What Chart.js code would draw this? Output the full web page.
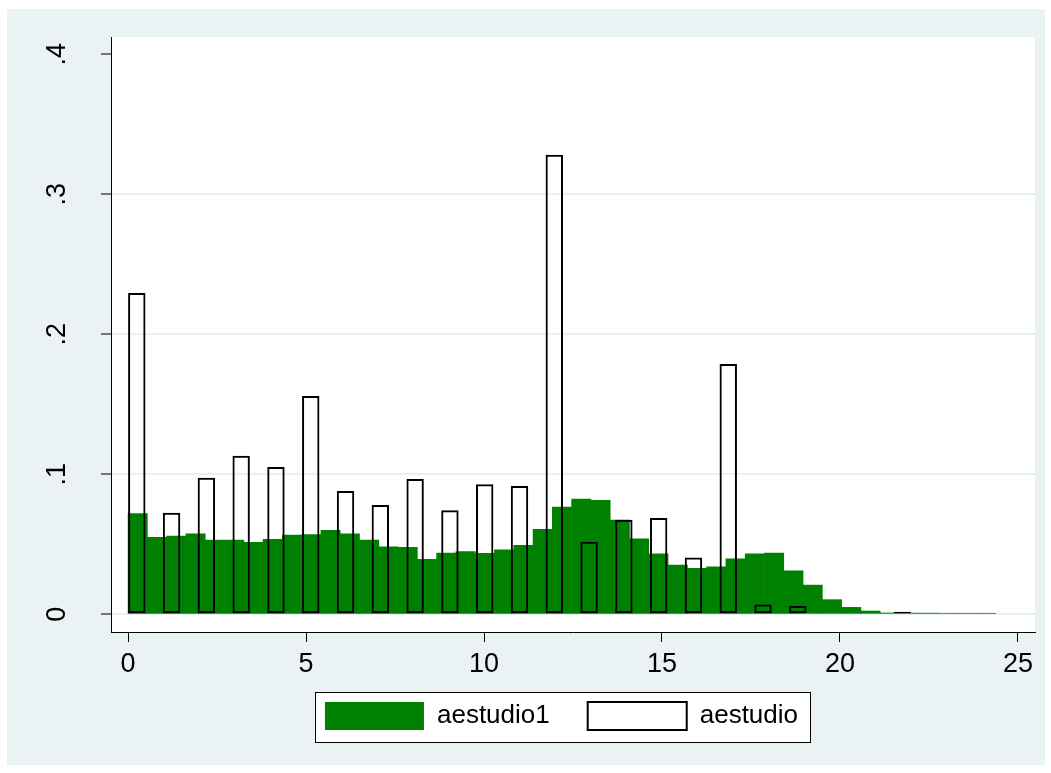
<!DOCTYPE html>
<html>
<head>
<meta charset="utf-8">
<title>aestudio histogram</title>
<script src="https://cdn.jsdelivr.net/npm/chart.js@4.4.1/dist/chart.umd.min.js"></script>
<style>
  html, body { margin: 0; padding: 0; background: #fff; }
  canvas { display: block; }
</style>
</head>
<body>
<canvas id="histChart" width="1051" height="773"></canvas>
<script>
// aestudio1: density per bin, 45 bins starting at 0
const binWidth1 = 0.5418;
const aestudio1 = [
  0.0720, 0.0550, 0.0560, 0.0576, 0.0530, 0.0530, 0.0514, 0.0536, 0.0566, 0.0570,
  0.0600, 0.0576, 0.0531, 0.0483, 0.0478, 0.0393, 0.0438, 0.0448, 0.0436, 0.0461,
  0.0493, 0.0607, 0.0766, 0.0824, 0.0814, 0.0674, 0.0540, 0.0433, 0.0352, 0.0329,
  0.0340, 0.0397, 0.0433, 0.0438, 0.0311, 0.0209, 0.0105, 0.0050, 0.0024, 0.0010,
  0.0009, 0.0009, 0.0008, 0.0008, 0.0008
];

// aestudio: density per year of schooling (0..22), narrow outlined bars
const binWidth2 = 0.9775;
const aestudio = [
  0.2295, 0.0726, 0.0976, 0.1133, 0.1052, 0.1560, 0.0881, 0.0781, 0.0966, 0.0743,
  0.0929, 0.0916, 0.3283, 0.0519, 0.0676, 0.0688, 0.0407, 0.1788, 0.0071, 0.0059,
  null, null, 0.0018
];

const seriesLabels = ['aestudio1', 'aestudio'];
const xTicks = [0, 5, 10, 15, 20, 25];
const yTicks = [0, 0.1, 0.2, 0.3, 0.4];
const yTickLabels = ['0', '.1', '.2', '.3', '.4'];

const bgColor = 'rgb(234, 242, 243)';
const gridColor = 'rgb(232, 240, 242)';
const green = '#008000';
const fontFamily = '"Liberation Sans", Arial, Helvetica, sans-serif';

// background, white plot region and framed legend
const stataFrame = {
  id: 'stataFrame',
  afterLayout(chart) {
    // legend sits a bit right of centre and closer to the axis, as in Stata
    const lg = chart.legend;
    const dx = 36, dy = -18;
    lg.left += dx; lg.right += dx;
    lg.top += dy; lg.bottom += dy;
  },
  beforeDraw(chart) {
    const { ctx, chartArea } = chart;
    ctx.save();
    ctx.fillStyle = '#fff';
    ctx.fillRect(0, 0, chart.width, chart.height);
    ctx.fillStyle = bgColor;
    ctx.fillRect(7, 9, chart.width - 13, chart.height - 17);
    ctx.fillStyle = '#fff';
    ctx.fillRect(chartArea.left, chartArea.top, chartArea.right - chartArea.left, chartArea.bottom - chartArea.top);

    const hb = chart.legend.legendHitBoxes;
    if (hb && hb.length) {
      const first = hb[0], last = hb[hb.length - 1];
      const x0 = first.left - 10;
      const x1 = last.left + last.width + 12;
      const y0 = first.top - 10;
      const y1 = first.top + first.height + 12;
      ctx.fillRect(x0, y0, x1 - x0, y1 - y0);
      ctx.strokeStyle = '#000';
      ctx.lineWidth = 1;
      ctx.strokeRect(Math.round(x0) + 0.5, Math.round(y0) + 0.5, Math.round(x1 - x0), Math.round(y1 - y0));
    }
    ctx.restore();
  }
};

const ctx = document.getElementById('histChart').getContext('2d');
new Chart(ctx, {
  type: 'bar',
  data: {
    datasets: [
      {
        label: seriesLabels[0],
        data: aestudio1.map((v, i) => ({ x: (i + 0.5) * binWidth1, y: v })),
        xAxisID: 'x',
        backgroundColor: green,
        borderWidth: 0,
        grouped: false,
        barPercentage: 1,
        categoryPercentage: 1,
        order: 1
      },
      {
        label: seriesLabels[1],
        data: aestudio.map((v, k) => ({ x: (k + 0.25) * binWidth2, y: v })),
        xAxisID: 'x2',
        backgroundColor: 'rgba(255, 255, 255, 0)',
        borderColor: '#000',
        borderWidth: 2,
        borderSkipped: false,
        grouped: false,
        barPercentage: 0.5,
        categoryPercentage: 1,
        order: 0
      }
    ]
  },
  options: {
    responsive: false,
    devicePixelRatio: 1,
    animation: false,
    events: [],
    layout: {
      autoPadding: false,
      padding: { left: 16, right: 16, top: 37, bottom: 15 }
    },
    scales: {
      x: {
        type: 'linear',
        offset: false,
        min: -0.48,
        max: 25.48,
        afterBuildTicks: s => { s.ticks = xTicks.map(v => ({ value: v })); },
        afterFit: s => { s.height = 50; s.paddingLeft = 0; s.paddingRight = 0; },
        ticks: {
          callback: v => String(v),
          color: '#000',
          font: { family: fontFamily, size: 27 },
          padding: 6,
          maxRotation: 0,
          autoSkip: false
        },
        grid: { offset: false, drawOnChartArea: false, tickLength: 10, tickColor: '#000', tickWidth: 1 },
        border: { display: true, color: '#000', width: 1 }
      },
      x2: {
        type: 'linear',
        position: 'bottom',
        display: false,
        offset: false,
        grid: { offset: false },
        min: -0.48,
        max: 25.48,
        afterBuildTicks: s => { s.ticks = xTicks.map(v => ({ value: v })); }
      },
      y: {
        min: -0.0126,
        max: 0.4124,
        afterBuildTicks: s => { s.ticks = yTicks.map(v => ({ value: v })); },
        afterFit: s => { s.width = 95; s.paddingTop = 0; s.paddingBottom = 0; },
        ticks: {
          callback: (v, i) => yTickLabels[i],
          color: '#000',
          font: { family: fontFamily, size: 27 },
          padding: 32,
          minRotation: 90,
          maxRotation: 90,
          crossAlign: 'center',
          autoSkip: false
        },
        grid: {
          color: c => (c.tick && c.tick.value >= 0.4 ? 'rgba(0,0,0,0)' : gridColor),
          lineWidth: 2,
          tickLength: 10,
          tickColor: '#000',
          tickWidth: 1
        },
        border: { display: true, color: '#000', width: 1 }
      }
    },
    plugins: {
      tooltip: { enabled: false },
      legend: {
        position: 'bottom',
        labels: {
          boxWidth: 99,
          boxHeight: 28,
          padding: 38,
          color: '#000',
          font: { family: fontFamily, size: 26 },
          sort: (a, b) => a.datasetIndex - b.datasetIndex
        }
      }
    }
  },
  plugins: [stataFrame]
});
</script>
</body>
</html>
